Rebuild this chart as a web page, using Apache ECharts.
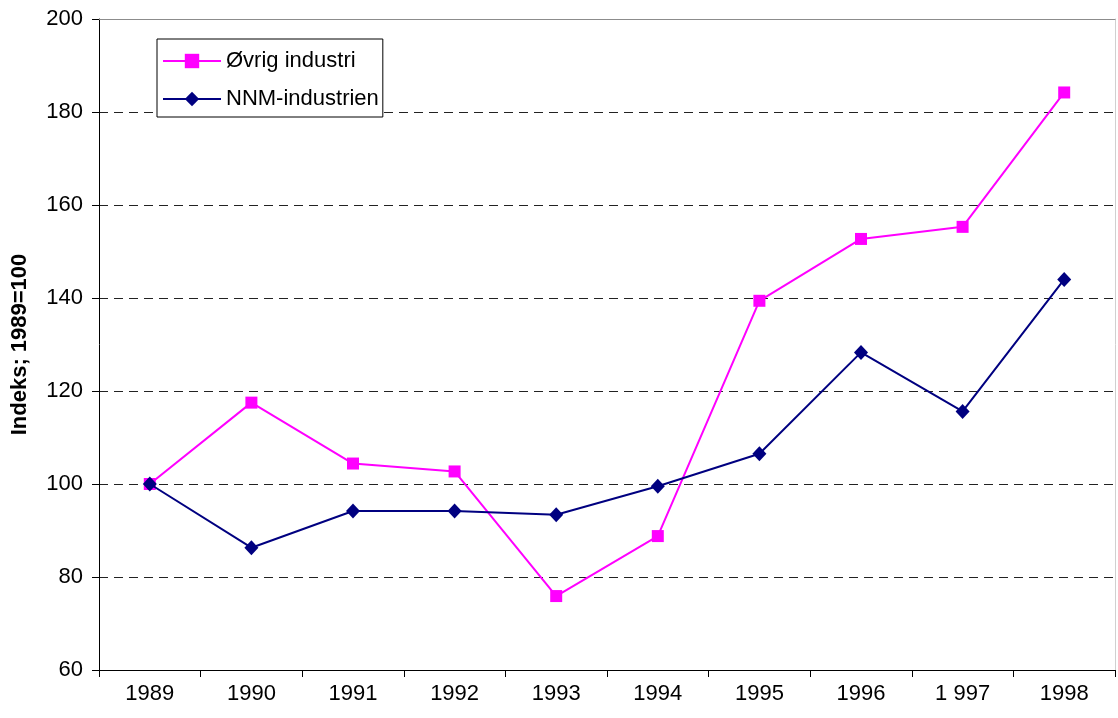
<!DOCTYPE html>
<html>
<head>
<meta charset="utf-8">
<script src="https://cdn.jsdelivr.net/npm/echarts@6/dist/echarts.min.js"></script>
<style>
  html, body { margin: 0; padding: 0; background: #fff; }
  #chart { width: 1118px; height: 718px; }
</style>
</head>
<body>
<div id="chart"></div>
<script>
// data
var years = ['1989', '1990', '1991', '1992', '1993', '1994', '1995', '1996', '1 997', '1998'];
var ovrigIndustri = [100, 117.5, 104.4, 102.7, 75.9, 88.8, 139.4, 152.7, 155.3, 184.2];
var nnmIndustrien = [100, 86.3, 94.2, 94.2, 93.4, 99.5, 106.5, 128.3, 115.6, 144.0];
var yMin = 60, yMax = 200, yStep = 20;

var font = 'Liberation Sans, Arial, sans-serif';
var chart = echarts.init(document.getElementById('chart'));

var option = {
    backgroundColor: '#fff',
    animation: false,
    grid: { left: 99, right: 3, top: 19, bottom: 48 },
    legend: {
        orient: 'vertical',
        left: 157,
        top: 39,
        padding: [11, 4, 7, 5],
        itemWidth: 58,
        itemHeight: 18,
        itemGap: 16,
        borderColor: '#000',
        borderWidth: 1,
        backgroundColor: '#fff',
        textStyle: { fontFamily: font, fontSize: 22, color: '#000', lineHeight: 22 },
        data: ['Øvrig industri', 'NNM-industrien']
    },
    xAxis: [{
        type: 'category',
        data: years,
        boundaryGap: true,
        axisLine: { lineStyle: { color: '#000', width: 1 } },
        axisTick: { show: true, interval: 0, length: 7, lineStyle: { color: '#000' } },
        axisLabel: { fontFamily: font, fontSize: 22, color: '#000', margin: 13, interval: 0 },
        splitLine: { show: false }
    }, {
        type: 'category',
        position: 'top',
        data: years,
        axisLine: { lineStyle: { color: '#8c8c8c', width: 1 } },
        axisTick: { show: false },
        axisLabel: { show: false },
        splitLine: { show: false }
    }],
    yAxis: [{
        type: 'value',
        min: yMin,
        max: yMax,
        interval: yStep,
        name: 'Indeks; 1989=100',
        nameLocation: 'middle',
        nameRotate: 90,
        nameGap: 68,
        nameTextStyle: { fontFamily: font, fontSize: 22, fontWeight: 'bold', color: '#000' },
        axisLine: { show: true, lineStyle: { color: '#000', width: 1 } },
        axisTick: { show: true, length: 7, lineStyle: { color: '#000' } },
        axisLabel: { fontFamily: font, fontSize: 22, color: '#000', margin: 16 },
        splitLine: { show: true, lineStyle: { color: '#222', width: 1, type: [9, 6] } }
    }, {
        type: 'value',
        position: 'right',
        min: yMin,
        max: yMax,
        interval: yStep,
        axisLine: { show: true, lineStyle: { color: '#d0d0d0', width: 1 } },
        axisTick: { show: false },
        axisLabel: { show: false },
        splitLine: { show: false }
    }],
    series: [{
        name: 'Øvrig industri',
        type: 'line',
        data: ovrigIndustri,
        symbol: 'rect',
        symbolSize: 12,
        z: 3,
        lineStyle: { color: '#ff00ff', width: 2 },
        itemStyle: { color: '#ff00ff' }
    }, {
        name: 'NNM-industrien',
        type: 'line',
        data: nnmIndustrien,
        symbol: 'diamond',
        symbolSize: [14, 15],
        z: 4,
        lineStyle: { color: '#000080', width: 2 },
        itemStyle: { color: '#000080' }
    }]
};

chart.setOption(option);
</script>
</body>
</html>
